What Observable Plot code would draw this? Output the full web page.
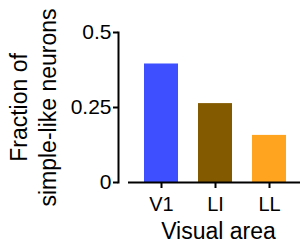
<!DOCTYPE html>
<html><head><meta charset="utf-8">
<script src="https://cdn.jsdelivr.net/npm/d3@7"></script>
<script src="https://cdn.jsdelivr.net/npm/@observablehq/plot@0.6"></script>
<style>
body{margin:0;background:#fff;}
svg{display:block;}
</style>
</head><body><div id="chart"></div>
<script>
const areas = ["V1", "LI", "LL"];
const fractions = [0.395, 0.263, 0.157];
const colors = ["#3d4fff", "#835a00", "#ffa41f"];
const yTicks = [0, 0.25, 0.5];
const yTitle = "Fraction of\nsimple-like neurons";
const xTitle = "Visual area";

const data = areas.map((a, i) => ({area: a, value: fractions[i]}));

const chart = Plot.plot({
  width: 300, height: 244,
  marginTop: 32, marginBottom: 62, marginLeft: 128, marginRight: 0,
  style: {fontFamily: "'Liberation Sans', Arial, sans-serif", fontSize: "21px", color: "#000", background: "#fff"},
  x: {domain: areas, range: [128, 302.3], paddingInner: 0.368, paddingOuter: 0.28, axis: null},
  y: {domain: [0, 0.5], axis: null},
  color: {domain: areas, range: colors},
  marks: [
    Plot.barY(data, {x: "area", y: "value", fill: "area"}),
    Plot.ruleY([0], {stroke: "#000", strokeWidth: 2}),
    Plot.frame({anchor: "left", dx: -10, stroke: "#000", strokeWidth: 2}),
    Plot.axisY({ticks: yTicks, tickFormat: d => String(d), tickSize: 5, tickPadding: 2, dx: -10, strokeWidth: 2, label: null, fontSize: 21}),
    Plot.axisX({tickSize: 6, tickPadding: 8, strokeWidth: 2, label: null, fontSize: 20}),
    Plot.text([yTitle], {frameAnchor: "left", textAnchor: "middle", lineAnchor: "middle", dx: 32 - 128, rotate: -90, fontSize: 23, lineHeight: 1.22}),
    Plot.text([xTitle], {frameAnchor: "bottom", textAnchor: "middle", lineAnchor: "middle", dx: 4, dy: 49.5, fontSize: 23})
  ]
});
document.getElementById("chart").appendChild(chart);
</script>
</body></html>
